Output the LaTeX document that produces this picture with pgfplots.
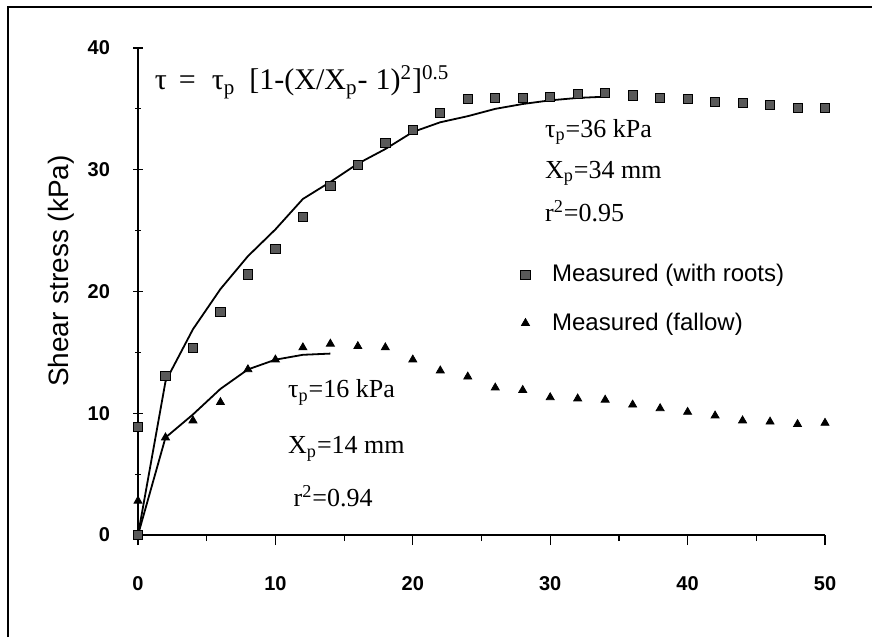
\documentclass[border=0pt]{standalone}
\usepackage{fontspec}
\setmainfont{Liberation Serif}
\setsansfont{Liberation Sans}
\usepackage{pgfplots}
\pgfplotsset{compat=1.18}

\begin{document}
\begin{tikzpicture}
\useasboundingbox (0,0) rectangle (436pt,318.5pt);
% scan frame (left and top edges only)
\draw[line width=1pt] (4pt,0pt) -- (4pt,315pt) -- (436pt,315pt);
% y axis title
\node[rotate=90, anchor=center, font=\sffamily\fontsize{14}{16}\selectfont]
    at (30.5pt,183pt) {Shear stress (kPa)};
\begin{axis}[
    at={(69pt,51pt)}, anchor=south west,
    scale only axis,
    width=343.5pt, height=243.5pt,
    xmin=0, xmax=50, ymin=0, ymax=40,
    axis lines=left,
    axis line style={-, line width=0.8pt},
    xtick={0,10,...,50}, ytick={0,10,...,40},
    minor tick num=1,
    xtick align=outside, ytick align=center,
    major tick length=5pt, minor tick length=3pt,
    tick style={black, line width=0.6pt},
    /pgf/number format/assume math mode=true,
    ticklabel style={font=\sffamily\bfseries\fontsize{10}{12}\selectfont},
    xticklabel style={yshift=-12pt},
    yticklabel style={xshift=-8pt},
    clip=false,
    legend style={draw=none, fill=none,
        at={(axis cs:27.4,22.9)}, anchor=north west,
        font=\sffamily\fontsize{12}{14}\selectfont,
        row sep=10pt,
        /tikz/every odd column/.append style={column sep=9pt}},
    legend cell align=left,
]
% measured, with roots
\addplot[only marks, mark=square*, mark size=2.3pt,
    mark options={fill=black!65, draw=black}]
coordinates {
    (0,0) (0,8.9) (2,13.1) (4,15.4) (6,18.3) (8,21.4) (10,23.5) (12,26.1)
    (14,28.7) (16,30.4) (18,32.2) (20,33.3) (22,34.7) (24,35.8) (26,35.9)
    (28,35.9) (30,36.0) (32,36.2) (34,36.3) (36,36.1) (38,35.9) (40,35.8)
    (42,35.6) (44,35.5) (46,35.3) (48,35.1) (50,35.1)
};
\addlegendentry{Measured (with roots)}
% measured, fallow
\addplot[only marks, mark=triangle*, mark size=2.3pt, black]
coordinates {
    (0,2.8) (2,8.0) (4,9.4) (6,10.9) (8,13.6) (10,14.4) (12,15.4) (14,15.7)
    (16,15.5) (18,15.4) (20,14.4) (22,13.5) (24,13.0) (26,12.1) (28,11.9)
    (30,11.3) (32,11.2) (34,11.1) (36,10.7) (38,10.4) (40,10.1) (42,9.8)
    (44,9.4) (46,9.3) (48,9.1) (50,9.2)
};
\addlegendentry{Measured (fallow)}
% fitted curves
\addplot[black, line width=0.9pt, forget plot]
coordinates {
    (0,0) (2,12.6) (4,16.9) (6,20.2) (8,22.9) (10,25.1) (12,27.6) (14,29.0)
    (16,30.5) (18,31.7) (20,33.1) (22,33.9) (24,34.4) (26,35.0) (28,35.4)
    (30,35.7) (32,35.9) (34,36.0)
};
\addplot[black, line width=0.9pt, forget plot]
coordinates {
    (0,0) (2,8.0) (4,9.9) (6,12.0) (8,13.6) (10,14.4) (12,14.8) (14,14.9)
};
% annotations
\node[anchor=west, inner sep=0pt, font=\fontsize{15}{17}\selectfont] at (axis cs:1.2,37.2)
    {τ\hspace{6pt}=\hspace{8pt}τ\textsubscript{p}\hspace{7pt}[1-(X/X\textsubscript{p}-\hspace{4pt}1)\textsuperscript{2}]\textsuperscript{0.5}};
\node[anchor=west, inner sep=0pt, font=\fontsize{13}{15}\selectfont] at (axis cs:29.6,33.1) {τ\textsubscript{p}=36 kPa};
\node[anchor=west, inner sep=0pt, font=\fontsize{13}{15}\selectfont] at (axis cs:29.6,29.7) {X\textsubscript{p}=34 mm};
\node[anchor=west, inner sep=0pt, font=\fontsize{13}{15}\selectfont] at (axis cs:29.6,26.6) {r\textsuperscript{2}=0.95};
\node[anchor=west, inner sep=0pt, font=\fontsize{13}{15}\selectfont] at (axis cs:10.9,11.7) {τ\textsubscript{p}=16 kPa};
\node[anchor=west, inner sep=0pt, font=\fontsize{13}{15}\selectfont] at (axis cs:10.9,7.1) {X\textsubscript{p}=14 mm};
\node[anchor=west, inner sep=0pt, font=\fontsize{13}{15}\selectfont] at (axis cs:11.3,3.2) {r\textsuperscript{2}=0.94};
\end{axis}
\end{tikzpicture}
\end{document}
